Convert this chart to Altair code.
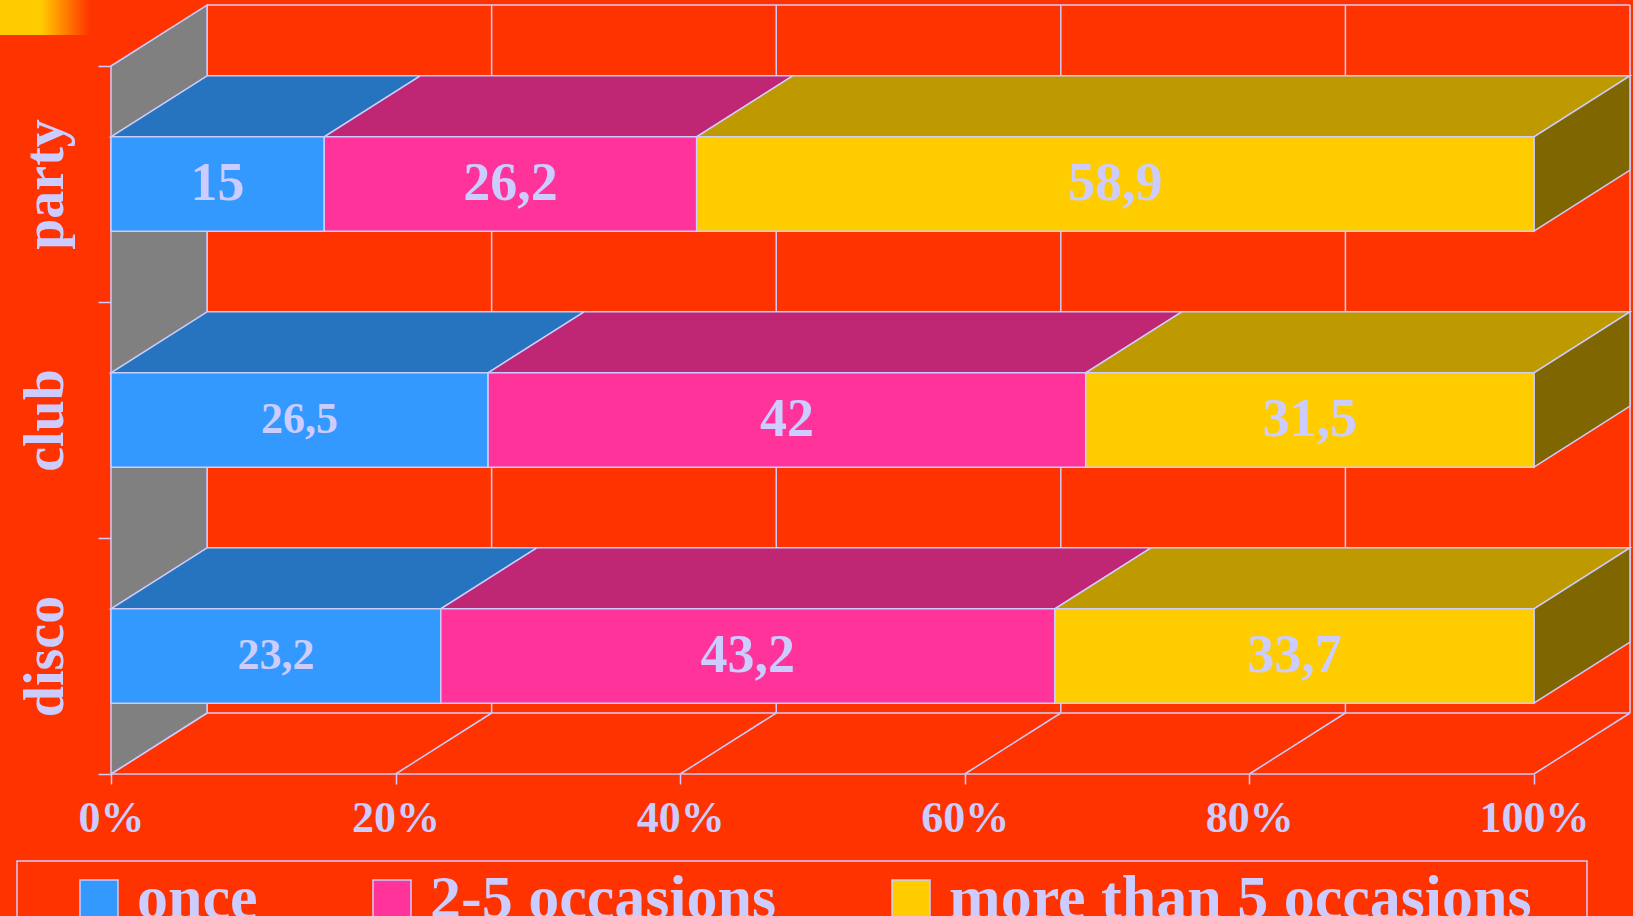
import altair as alt
import pandas as pd

# ---- data -------------------------------------------------------------
categories = ["party", "club", "disco"]
segments = ["once", "2-5 occasions", "more than 5 occasions"]
once = [15, 26.5, 23.2]
two_to_five = [26.2, 42, 43.2]
more_than_five = [58.9, 31.5, 33.7]
x_ticks = [0, 20, 40, 60, 80, 100]

# ---- style ------------------------------------------------------------
FONT = "Liberation Serif"
BG = "#FF3300"
LINE = "#CCCCFF"
FRONT_COLORS = ["#3399FF", "#FF3399", "#FFCC00"]
TOP_COLORS = ["#2673BF", "#BF2673", "#BF9900"]
SIDE_COLOR = "#806600"
WALL_COLOR = "#808080"
STROKE_W = 1.5

DEPTH_X = 6.75     # depth of the 3-D box, in percent units
DEPTH_Y = 0.2585   # depth of the 3-D box, in category rows
BAR_TOP, BAR_BOTTOM = 0.3, 0.7
N = len(categories)

# ---- derived tables ---------------------------------------------------
series = [once, two_to_five, more_than_five]
bar_rows, top_pts, side_pts = [], [], []
for r, cat in enumerate(categories):
    vals = [s[r] for s in series]
    total = sum(vals)
    start = 0.0
    for s, (seg, v) in enumerate(zip(segments, vals)):
        end = start + v / total * 100
        key = f"{cat}-{s}"
        bar_rows.append(dict(
            category=cat, row=r, segment=seg, order=s, value=v,
            x0=start, x1=end, xm=(start + end) / 2,
            yf0=r + BAR_TOP, yf1=r + BAR_BOTTOM, ym=r + 0.5,
            label=f"{v:g}".replace(".", ","),
        ))
        top_pts += [
            dict(key=key, y=r + BAR_TOP, xa=start, xb=end, fill=TOP_COLORS[s]),
            dict(key=key, y=r + BAR_TOP - DEPTH_Y, xa=start + DEPTH_X,
                 xb=end + DEPTH_X, fill=TOP_COLORS[s]),
        ]
        if s == len(segments) - 1:
            side_pts += [
                dict(key=key, x=end, ya=r + BAR_TOP, yb=r + BAR_BOTTOM),
                dict(key=key, x=end + DEPTH_X, ya=r + BAR_TOP - DEPTH_Y,
                     yb=r + BAR_BOTTOM - DEPTH_Y),
            ]
        start = end

bars = pd.DataFrame(bar_rows)
tops = pd.DataFrame(top_pts)
sides = pd.DataFrame(side_pts)
wall = pd.DataFrame([
    dict(x=0, ya=0, yb=N),
    dict(x=DEPTH_X, ya=-DEPTH_Y, yb=N - DEPTH_Y),
])

lines = [
    dict(x=DEPTH_X, y=-DEPTH_Y, x2=100 + DEPTH_X, y2=-DEPTH_Y),
    dict(x=DEPTH_X, y=N - DEPTH_Y, x2=100 + DEPTH_X, y2=N - DEPTH_Y),
    dict(x=0, y=N, x2=100, y2=N),
]
for t in x_ticks:
    lines.append(dict(x=t + DEPTH_X, y=-DEPTH_Y, x2=t + DEPTH_X, y2=N - DEPTH_Y))
    lines.append(dict(x=t, y=N, x2=t + DEPTH_X, y2=N - DEPTH_Y))
frame = pd.DataFrame(lines)

# ---- scales and axes --------------------------------------------------
xscale = alt.Scale(domain=[0, 100 + DEPTH_X], nice=False, zero=False)
yscale = alt.Scale(domain=[-DEPTH_Y, N], reverse=True, nice=False, zero=False)

x_axis = alt.Axis(
    values=x_ticks, labelExpr="datum.value + '%'", title=None,
    domain=False, grid=False, tickSize=10, tickColor=LINE, tickWidth=STROKE_W,
    labelFont=FONT, labelFontWeight="bold", labelFontSize=44, labelColor=LINE,
    labelPadding=12, labelFlush=False, labelOverlap=False,
)

y_values = [i / 2 for i in range(2 * N + 1)]
label_expr = " : ".join(
    f"datum.value === {r + 0.5} ? '{c}'" for r, c in enumerate(categories)
) + " : ''"
y_axis = alt.Axis(
    values=y_values, labelExpr=label_expr, title=None,
    domain=False, grid=False, tickSize=13, tickColor=LINE, tickWidth=STROKE_W,
    tickOpacity={"condition": {"test": "datum.value % 1 === 0", "value": 1}, "value": 0},
    labelFont=FONT, labelFontWeight="bold", labelFontSize=56, labelColor=LINE,
    labelAngle=270, labelAlign="center", labelBaseline="alphabetic",
    labelPadding=36, labelOverlap=False,
)


def X(field, **kw):
    return alt.X(field, scale=xscale, axis=x_axis, **kw)


def Y(field, **kw):
    return alt.Y(field, scale=yscale, axis=y_axis, **kw)


# ---- layers -----------------------------------------------------------
grid = alt.Chart(frame).mark_rule(color=LINE, strokeWidth=STROKE_W).encode(
    x=X("x:Q"), y=Y("y:Q"), x2="x2:Q", y2="y2:Q",
)

left_wall = alt.Chart(wall).mark_area(
    orient="vertical", color=WALL_COLOR, stroke=LINE, strokeWidth=STROKE_W,
    opacity=1,
).encode(
    x=X("x:Q"), y=Y("ya:Q", stack=False), y2="yb:Q",
)

top_faces = alt.Chart(tops).mark_area(
    orient="horizontal", stroke=LINE, strokeWidth=STROKE_W, opacity=1,
).encode(
    y=Y("y:Q"),
    x=X("xa:Q", stack=False),
    x2="xb:Q",
    color=alt.Color("fill:N", scale=None),
    detail="key:N",
)

side_faces = alt.Chart(sides).mark_area(
    orient="vertical", color=SIDE_COLOR, stroke=LINE, strokeWidth=STROKE_W,
    opacity=1,
).encode(
    x=X("x:Q"), y=Y("ya:Q", stack=False), y2="yb:Q", detail="key:N",
)

front_faces = alt.Chart(bars).mark_rect(
    stroke=LINE, strokeWidth=STROKE_W, opacity=1,
).encode(
    x=X("x0:Q"),
    x2="x1:Q",
    y=Y("yf0:Q"),
    y2="yf1:Q",
    color=alt.Color(
        "segment:N",
        scale=alt.Scale(domain=segments, range=FRONT_COLORS),
        legend=alt.Legend(
            title=None, orient="none", legendX=-43, legendY=863,
            direction="horizontal", symbolType="square", symbolSize=1444,
            symbolStrokeColor=LINE, symbolStrokeWidth=STROKE_W,
            symbolOpacity=1,
            labelFont=FONT, labelFontWeight="bold", labelFontSize=62,
            labelColor=LINE, labelLimit=0, labelOffset=7,
            columnPadding=103, padding=0,
        ),
    ),
)

value_labels = alt.Chart(bars).mark_text(
    font=FONT, fontWeight="bold", color=LINE, align="center", baseline="middle",
).encode(
    x=X("xm:Q"),
    y=Y("ym:Q"),
    text="label:N",
    size=alt.condition("datum.order === 0 && datum.row > 0",
                       alt.value(44), alt.value(54)),
)

one_row = pd.DataFrame({"k": [0]})

# frame drawn around the legend
legend_frame = alt.Chart(one_row).mark_rect(
    fill=None, stroke=LINE, strokeWidth=STROKE_W,
).encode(
    x=alt.value(-94), x2=alt.value(1476), y=alt.value(856), y2=alt.value(940),
)

# small yellow flourish in the top-left corner of the slide
corner = alt.Chart(one_row).mark_rect(
    fill=alt.Gradient(
        gradient="linear", x1=0, x2=1, y1=0, y2=0,
        stops=[alt.GradientStop(color="#FFCC00", offset=0),
               alt.GradientStop(color="#FFCC00", offset=0.45),
               alt.GradientStop(color=BG, offset=1)],
    ),
).encode(
    x=alt.value(-111), x2=alt.value(-21), y=alt.value(-5), y2=alt.value(30),
)

chart = alt.layer(
    grid, left_wall, top_faces, side_faces, front_faces, value_labels,
    legend_frame, corner,
).properties(
    width=1519, height=769,
    padding={"left": 111, "top": 5, "right": 3, "bottom": 142},
    autosize=alt.AutoSizeParams(type="none"),
    background=BG,
).configure_view(stroke=None)

chart.save("out.html", embed_options={"renderer": "svg", "actions": False})
